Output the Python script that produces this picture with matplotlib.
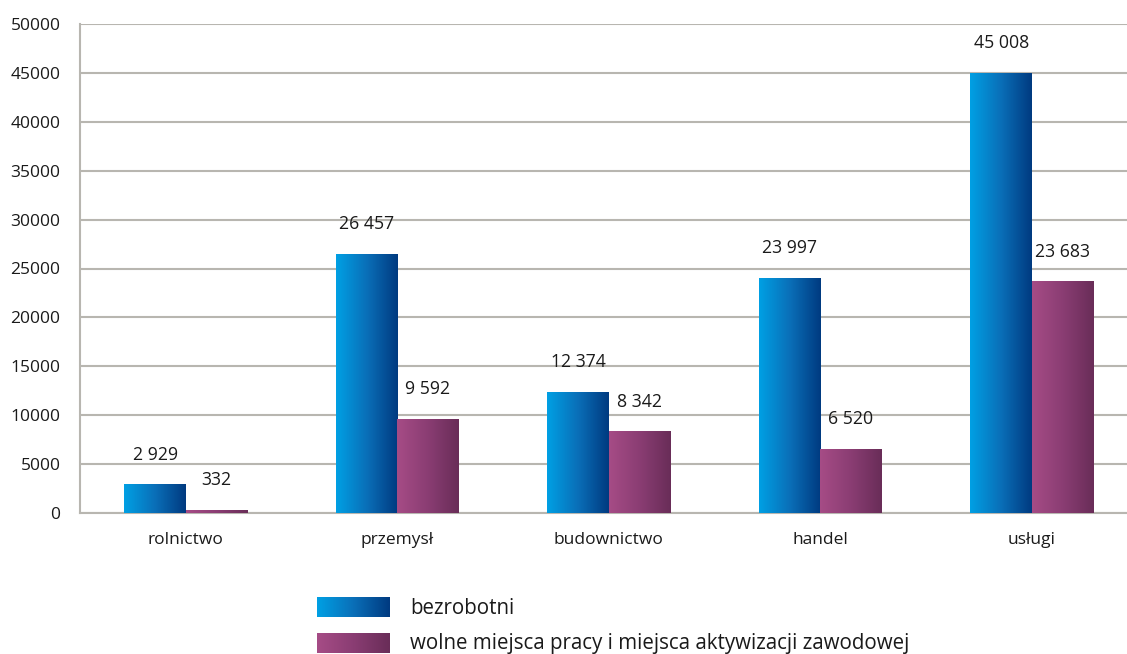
import matplotlib
matplotlib.use("Agg")
import matplotlib.pyplot as plt
import numpy as np
from matplotlib.colors import LinearSegmentedColormap

categories = ["rolnictwo", "przemysł", "budownictwo", "handel", "usługi"]
bezrobotni = [2929, 26457, 12374, 23997, 45008]
wolne = [332, 9592, 8342, 6520, 23683]
series_names = ["bezrobotni", "wolne miejsca pracy i miejsca aktywizacji zawodowej"]
yticks = [0, 5000, 10000, 15000, 20000, 25000, 30000, 35000, 40000, 45000, 50000]

plt.rcParams['font.family'] = ['Open Sans', 'DejaVu Sans']

W, H = 1127, 654
fig = plt.figure(figsize=(W / 100, H / 100), dpi=100)
ax = fig.add_axes([80 / W, 1 - 513 / H, (1127 - 80) / W, (513 - 24) / H])

cmap_blue = LinearSegmentedColormap.from_list("b", ["#00a0e4", "#0a6fb8", "#003a80"])
cmap_purp = LinearSegmentedColormap.from_list("p", ["#a64c86", "#8a3d73", "#692d58"])
grad = np.linspace(0, 1, 256).reshape(1, -1)

x = np.arange(len(categories))
bw = 0.29

def fmt(v):
    return f"{v:,}".replace(",", " ")

for vals, off, cmap in [(bezrobotni, -bw / 2, cmap_blue), (wolne, bw / 2, cmap_purp)]:
    bars = ax.bar(x + off, vals, width=bw, color="none", edgecolor="none", zorder=3)
    for b, v in zip(bars, vals):
        x0, y0 = b.get_x(), b.get_y()
        im = ax.imshow(grad, cmap=cmap, aspect="auto",
                       extent=(x0, x0 + b.get_width(), y0, y0 + b.get_height()),
                       zorder=3, interpolation="bilinear")
        im.set_clip_path(b)
        ax.annotate(fmt(v), (b.get_x() + b.get_width() / 2, v), xytext=(0, 15),
                    textcoords="offset points", ha="center", va="bottom",
                    fontsize=12.7, color="#1a1a1a")

ax.set_xlim(-0.5, 4.45)
ax.set_ylim(0, 50000)
ax.set_yticks(yticks)
ax.set_yticklabels([str(t) for t in yticks])
ax.set_xticks(x)
ax.set_xticklabels(categories)
ax.tick_params(axis="both", length=0, labelsize=12.5, colors="#1a1a1a")
ax.tick_params(axis="x", pad=14)
ax.tick_params(axis="y", pad=14)
ax.yaxis.grid(True, color="#b8b6b0", linewidth=1.5, zorder=0)
ax.set_axisbelow(True)
for s in ["top", "right"]:
    ax.spines[s].set_visible(False)
ax.spines["left"].set_color("#b8b6b0")
ax.spines["left"].set_linewidth(1.5)
ax.spines["bottom"].set_color("#b8b6b0")
ax.spines["bottom"].set_linewidth(1.5)

# legend
for i, (name, cmap) in enumerate(zip(series_names, [cmap_blue, cmap_purp])):
    top = 597 + i * 36
    lax = fig.add_axes([317 / W, 1 - (top + 20) / H, 73 / W, 20 / H])
    lax.imshow(grad, cmap=cmap, aspect="auto", interpolation="bilinear")
    lax.axis("off")
    fig.text(410 / W, 1 - (top + 11) / H, name, fontsize=14.8, va="center", ha="left",
             color="#1a1a1a")

fig.savefig("out.png", dpi=100)
